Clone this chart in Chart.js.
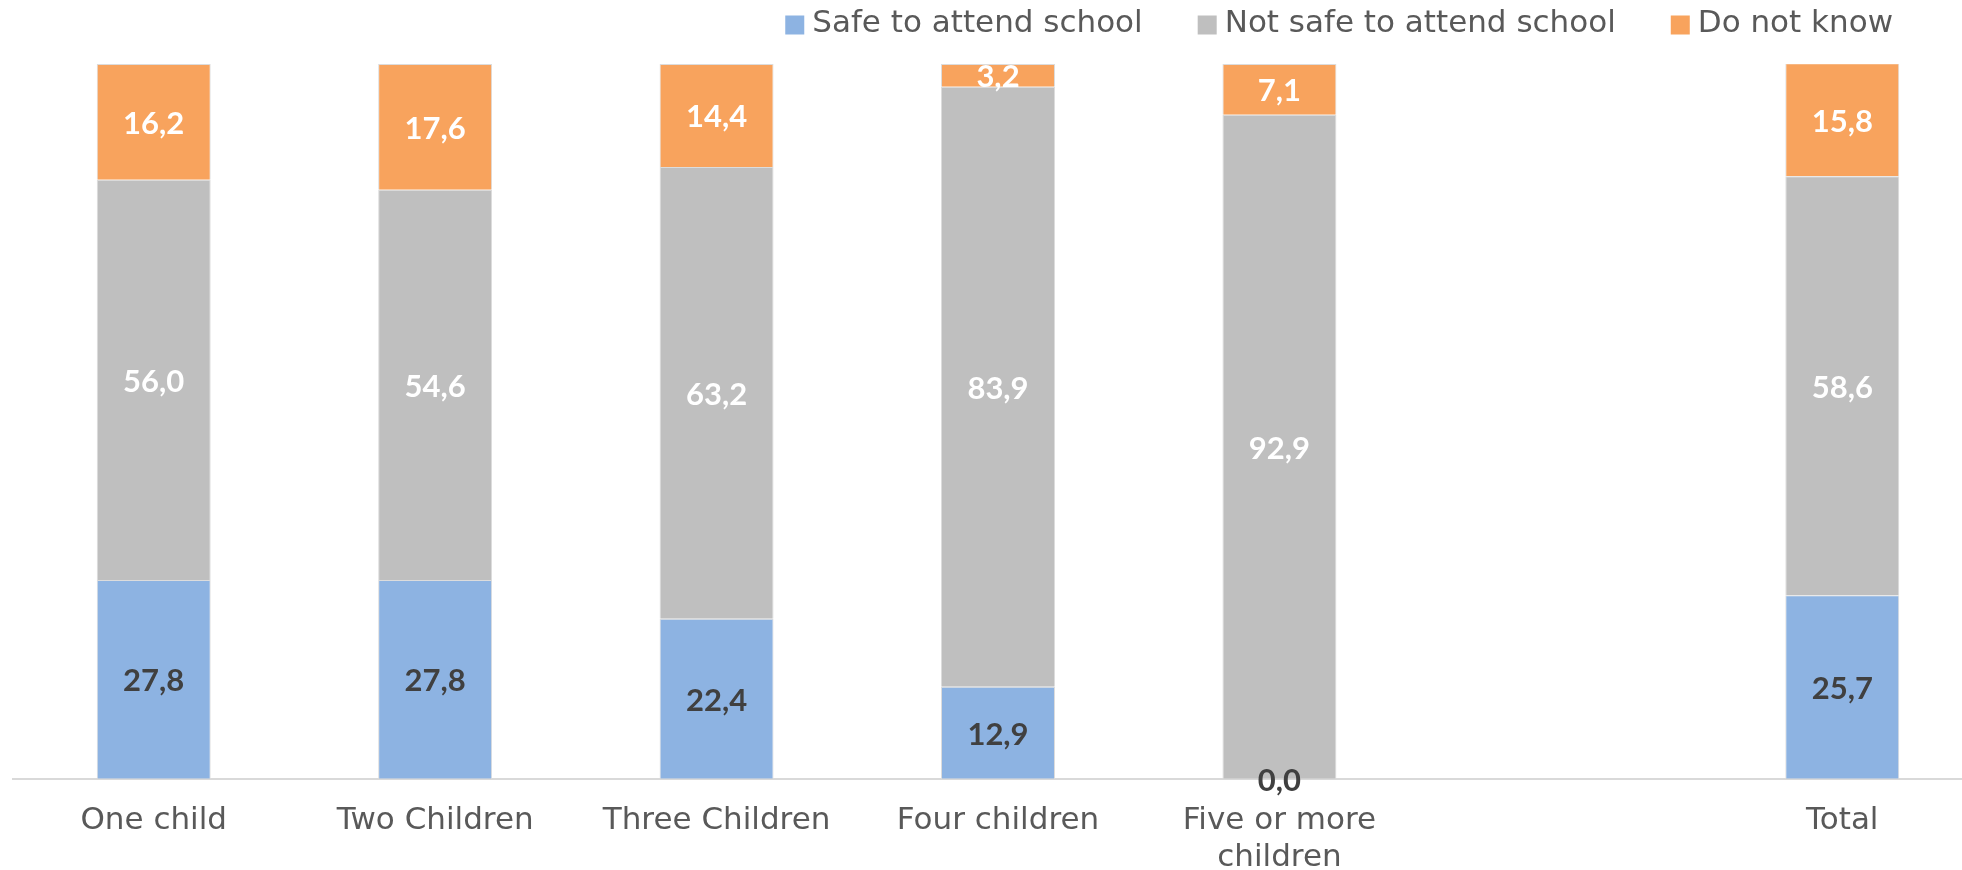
<!DOCTYPE html>
<html>
<head>
<meta charset="utf-8">
<script src="https://cdn.jsdelivr.net/npm/chart.js@4.4.1/dist/chart.umd.min.js"></script>
<style>
  html, body { margin: 0; padding: 0; background: #ffffff; overflow: hidden; }
  #wrap { width: 1983px; height: 900px; position: relative; }
</style>
</head>
<body>
<div id="wrap"><canvas id="chart"></canvas></div>
<script>
// Household size groups (the blank slot separates the groups from the total)
const categories = ['One child', 'Two Children', 'Three Children', 'Four children', ['Five or more', 'children'], '', 'Total'];

// Share of respondents (%) per answer
const safeToAttend    = [27.8, 27.8, 22.4, 12.9, 0.0, null, 25.7];
const notSafeToAttend = [56.0, 54.6, 63.2, 83.9, 92.9, null, 58.6];
const doNotKnow       = [16.2, 17.6, 14.4, 3.2, 7.1, null, 15.8];

const seriesNames  = ['Safe to attend school', 'Not safe to attend school', 'Do not know'];
const seriesColors = ['#8db3e2', '#bfbfbf', '#f8a35d'];
const labelColors  = ['#404040', '#ffffff', '#ffffff'];

const textColor = '#595959';
const textFont = 'DejaVu Sans';

// Writes each segment's value (decimal comma) in the middle of the segment
const segmentValues = {
  id: 'segmentValues',
  afterDatasetsDraw(chart) {
    const ctx = chart.ctx;
    ctx.save();
    ctx.font = 'bold 31px Lato';
    ctx.textAlign = 'center';
    ctx.textBaseline = 'middle';
    chart.data.datasets.forEach((ds, di) => {
      const meta = chart.getDatasetMeta(di);
      meta.data.forEach((bar, i) => {
        const v = ds.data[i];
        if (v === null || v === undefined) return;
        const p = bar.getProps(['x', 'y', 'base'], true);
        ctx.fillStyle = ds.valueColor;
        ctx.fillText(v.toFixed(1).replace('.', ','), p.x, (p.y + p.base) / 2 + 2);
      });
    });
    ctx.restore();
  }
};

// Legend row laid out from the right, square marker before each name
const legendRow = {
  id: 'legendRow',
  afterDraw(chart) {
    const ctx = chart.ctx;
    const box = 19, boxGap = 8, itemGap = 55;
    const centerY = 24;
    let x = chart.width - 90;
    ctx.save();
    ctx.font = '31px "' + textFont + '"';
    ctx.textBaseline = 'middle';
    ctx.textAlign = 'left';
    const sets = chart.data.datasets;
    for (let i = sets.length - 1; i >= 0; i--) {
      const w = ctx.measureText(sets[i].label).width;
      const textX = x - w;
      const boxX = textX - boxGap - box;
      ctx.fillStyle = sets[i].backgroundColor;
      ctx.fillRect(boxX, centerY + 1 - box / 2, box, box);
      ctx.fillStyle = textColor;
      ctx.fillText(sets[i].label, textX, centerY);
      x = boxX - itemGap;
    }
    ctx.restore();
  }
};

const seriesData = [safeToAttend, notSafeToAttend, doNotKnow];

new Chart(document.getElementById('chart'), {
  type: 'bar',
  data: {
    labels: categories,
    datasets: seriesData.map((d, i) => ({
      label: seriesNames[i],
      data: d,
      backgroundColor: seriesColors[i],
      borderColor: '#dcdcdc',
      borderWidth: 1,
      valueColor: labelColors[i],
      barPercentage: 0.405,
      categoryPercentage: 1.0
    }))
  },
  options: {
    responsive: true,
    maintainAspectRatio: false,
    animation: false,
    layout: { padding: { left: 13, right: 0, top: 64, bottom: 0 } },
    plugins: {
      legend: { display: false },
      tooltip: { enabled: false }
    },
    scales: {
      x: {
        stacked: true,
        grid: { display: false, drawTicks: false },
        border: { display: true, color: '#d9d9d9', width: 2 },
        ticks: {
          color: textColor,
          font: { family: textFont, size: 31, lineHeight: 1.18 },
          padding: 24,
          maxRotation: 0,
          autoSkip: false
        }
      },
      y: {
        stacked: true,
        display: false,
        min: 0,
        max: 100
      }
    }
  },
  plugins: [segmentValues, legendRow]
});
</script>
</body>
</html>
